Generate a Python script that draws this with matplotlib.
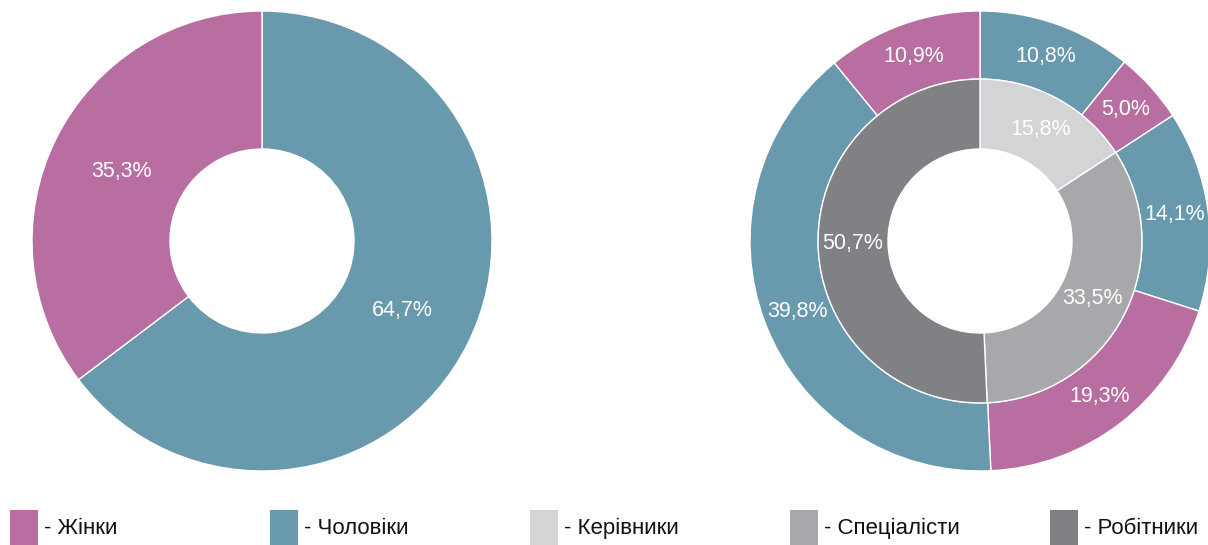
import matplotlib
matplotlib.use("Agg")
import matplotlib.pyplot as plt
import numpy as np
from matplotlib.patches import Rectangle

plt.rcParams['font.family'] = ['Liberation Sans', 'DejaVu Sans']

# data
gender_labels = ['Чоловіки', 'Жінки']
gender_values = [64.7, 35.3]

outer_values = [10.8, 5.0, 14.1, 19.3, 39.8, 10.9]
outer_groups = ['Чоловіки', 'Жінки', 'Чоловіки', 'Жінки', 'Чоловіки', 'Жінки']

inner_labels = ['Керівники', 'Спеціалісти', 'Робітники']
inner_values = [15.8, 33.5, 50.7]

legend_labels = ['Жінки', 'Чоловіки', 'Керівники', 'Спеціалісти', 'Робітники']

colors = {
    'Жінки': '#b86ea0',
    'Чоловіки': '#6899ad',
    'Керівники': '#d3d4d5',
    'Спеціалісти': '#a7a8ab',
    'Робітники': '#808185',
}

W, H = 1208, 545
fig = plt.figure(figsize=(W / 100, H / 100), dpi=100)


def fmt(v):
    return f"{v:.1f}".replace('.', ',') + '%'


def px_axes(cx, cy, r):
    ax = fig.add_axes([(cx - r) / W, (H - cy - r) / H, 2 * r / W, 2 * r / H])
    return ax


def finish(ax):
    ax.set_xlim(-1, 1)
    ax.set_ylim(-1, 1)
    ax.set_aspect('equal')
    ax.axis('off')


def put_labels(ax, vals, rr):
    cum = 0
    tot = sum(vals)
    for v in vals:
        ang = np.deg2rad(90 - 360 * (cum + v / 2) / tot)
        ax.text(rr * np.cos(ang), rr * np.sin(ang), fmt(v),
                ha='center', va='center', color='white', fontsize=15.5)
        cum += v


wp = dict(edgecolor='white', linewidth=1)

# left donut
ax1 = px_axes(262, 241, 230)
ax1.pie(gender_values, colors=[colors[g] for g in gender_labels], radius=1,
        startangle=90, counterclock=False, wedgeprops=dict(width=0.6, **wp))
put_labels(ax1, gender_values, 0.68)
finish(ax1)

# right double donut
ax2 = px_axes(980, 241, 230)
ax2.pie(outer_values, colors=[colors[g] for g in outer_groups], radius=1,
        startangle=90, counterclock=False, wedgeprops=dict(width=0.296, **wp))
ax2.pie(inner_values, colors=[colors[c] for c in inner_labels], radius=0.704,
        startangle=90, counterclock=False, wedgeprops=dict(width=0.304, **wp))
put_labels(ax2, outer_values, 0.852)
put_labels(ax2, inner_values, 0.552)
finish(ax2)

# legend
axl = fig.add_axes([0, 0, 1, 1], zorder=-1)
axl.set_xlim(0, W)
axl.set_ylim(H, 0)
axl.axis('off')
for i, lab in enumerate(legend_labels):
    x0 = 10 + i * 260
    axl.add_patch(Rectangle((x0, 510), 28, 36, facecolor=colors[lab], edgecolor='none'))
    axl.text(x0 + 34, 528, '- ' + lab, ha='left', va='center',
             fontsize=16, color='#111111')

fig.savefig('out.png', dpi=100)
